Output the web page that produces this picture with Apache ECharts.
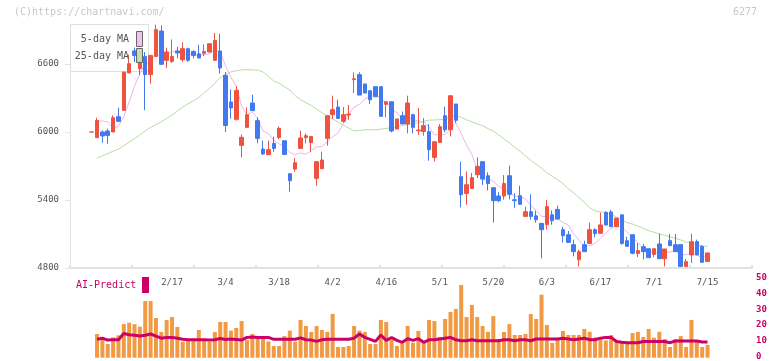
<!DOCTYPE html>
<html>
<head>
<meta charset="utf-8">
<script src="https://cdn.jsdelivr.net/npm/echarts@6/dist/echarts.min.js"></script>
<style>
  html, body { margin: 0; padding: 0; background: #fff; }
  #chart { width: 772px; height: 361px; }
</style>
</head>
<body>
<div id="chart"></div>
<script>
// 日付(営業日)
const dates = [
  '1/24','1/27','1/28','1/29','1/30','1/31','2/3','2/4','2/5','2/6',
  '2/7','2/10','2/12','2/13','2/14','2/17','2/18','2/19','2/20','2/21',
  '2/25','2/26','2/27','2/28','3/3','3/4','3/5','3/6','3/7','3/10',
  '3/11','3/12','3/13','3/14','3/17','3/18','3/19','3/21','3/24','3/25',
  '3/26','3/27','3/28','3/31','4/1','4/2','4/3','4/4','4/7','4/8',
  '4/9','4/10','4/11','4/14','4/15','4/16','4/17','4/18','4/21','4/22',
  '4/23','4/24','4/25','4/28','4/30','5/1','5/2','5/7','5/8','5/9',
  '5/12','5/13','5/14','5/15','5/16','5/20','5/21','5/22','5/23','5/26',
  '5/27','5/28','5/29','5/30','6/2','6/3','6/4','6/5','6/6','6/9',
  '6/10','6/11','6/12','6/13','6/16','6/17','6/18','6/19','6/20','6/23',
  '6/24','6/25','6/26','6/27','6/30','7/1','7/2','7/3','7/4','7/7',
  '7/8','7/9','7/10','7/11','7/14','7/15'
];
// x軸に表示する日付
const tickDays = ['2/17','3/4','3/18','4/2','4/16','5/1','5/20','6/3','6/17','7/1','7/15'];
const priceTicks = [4800, 5400, 6000, 6600];

const opens = [
  6000,5950,6000,6009,6000,6135,6191,6521,6715,6560,
  6667,6506,6667,6891,6632,6623,6715,6638,6735,6711,
  6690,6694,6706,6632,6715,6500,6265,6112,5882,6041,
  6256,6100,5850,5800,5900,5952,5923,5632,5673,5855,
  5950,5906,5591,5676,5944,6153,6220,6094,6150,6462,
  6506,6424,6364,6400,6400,6244,6267,6026,6144,6071,
  6153,6010,6005,6003,5776,5908,6144,6020,6247,5606,
  5458,5502,5623,5738,5614,5508,5435,5435,5614,5402,
  5438,5255,5297,5260,5194,5182,5270,5317,5138,5094,
  5006,4873,5006,5017,5138,5106,5291,5294,5165,5269,
  5041,5094,4929,4988,4970,4920,5012,4882,5041,5006,
  5006,4814,4915,5032,4990,4857
];
const closes = [
  6000,6102,5965,5970,6126,6094,6529,6603,6676,6670,
  6506,6676,6903,6597,6706,6667,6697,6735,6632,6676,
  6653,6711,6779,6808,6565,6058,6212,6367,5953,6153,
  6188,5944,5806,5844,5855,6032,5802,5570,5729,5947,
  5967,5961,5738,5753,6144,6197,6120,6153,6158,6470,
  6326,6344,6285,6311,6138,6267,6009,6115,6071,6256,
  6041,6017,6056,5844,5914,6047,6020,6320,6103,5447,
  5535,5597,5697,5585,5546,5394,5394,5545,5450,5394,
  5362,5297,5255,5226,5138,5342,5217,5232,5085,5026,
  4944,4944,4944,5138,5103,5180,5179,5165,5241,5017,
  4991,4930,4953,4944,4891,4970,4882,4968,4997,4944,
  4814,4856,5032,4915,4850,4933
];
const lows = [
  6000,5950,5906,5897,6000,6088,6191,6521,6618,6500,
  6193,6426,6667,6597,6565,6610,6650,6620,6620,6650,
  6653,6670,6700,6632,6514,6000,6117,6100,5776,6041,
  6188,5900,5797,5800,5826,5935,5802,5473,5650,5855,
  5900,5826,5526,5676,5879,6114,6120,6082,6108,6344,
  6326,6344,6247,6311,6138,6129,5997,6026,6071,5988,
  5988,5974,5967,5747,5741,5908,5997,5961,6080,5335,
  5358,5502,5594,5532,5485,5202,5380,5403,5406,5330,
  5362,5255,5226,5200,4885,5138,5182,5232,5026,5026,
  4903,4812,4944,5017,5070,5106,5179,5165,5165,5005,
  4991,4920,4897,4875,4891,4895,4882,4814,4997,4944,
  4814,4814,4844,4915,4850,4857
];
const highs = [
  6000,6126,6014,6030,6146,6214,6529,6682,6744,6700,
  6706,6676,6947,6941,6744,6817,6750,6791,6745,6720,
  6770,6774,6779,6874,6867,6529,6376,6406,5977,6217,
  6329,6129,5923,5923,5959,6049,5923,5632,5770,6011,
  5988,5961,5738,5826,6144,6320,6285,6220,6238,6526,
  6526,6424,6364,6400,6400,6267,6267,6115,6180,6320,
  6160,6212,6123,6070,5914,6070,6223,6320,6247,5738,
  5652,5638,5776,5738,5644,5515,5470,5620,5703,5459,
  5526,5341,5450,5306,5194,5400,5308,5350,5164,5126,
  5050,4962,5041,5200,5150,5288,5300,5312,5241,5269,
  5075,5094,5020,5012,4970,4970,5103,4968,5100,5100,
  5006,4880,5103,5050,5000,4933
];
// 25日移動平均(チャートから読み取り)
const ma25 = [
  '-',5770,5790,5810,5830,5850,5880,5910,5940,5975,
  6010,6040,6065,6090,6120,6150,6185,6220,6250,6275,
  6305,6345,6385,6430,6480,6510,6530,6540,6548,6550,
  6548,6545,6530,6490,6450,6430,6400,6370,6320,6285,
  6260,6235,6200,6170,6140,6115,6090,6060,6035,6010,
  6012,6020,6020,6020,6025,6032,6038,6045,6058,6066,
  6074,6082,6094,6105,6106,6108,6115,6135,6145,6130,
  6108,6090,6072,6055,6030,6008,5975,5938,5905,5865,
  5830,5790,5750,5715,5680,5640,5610,5578,5545,5500,
  5465,5420,5380,5330,5305,5295,5288,5278,5250,5220,
  5200,5188,5170,5150,5130,5115,5100,5088,5075,5062,
  5048,5030,5018,5005,4995,4990
];
// 5日移動平均の最初の部分(表示範囲より前のデータが必要なため読み取り)
const ma5Head = ['-', 6097, 6097, 6090];
const volumes = [
  '-',14.8,12,8.6,12.7,14,21,21.9,21,19.4,
  35.4,35.4,24.8,16.1,23.6,25.4,19.2,10,11.5,12,
  17.3,11,10,16.1,22.3,22.3,16.9,18.6,22.9,11,
  14.8,13.5,12.7,10.2,7.3,7.3,13.5,16.9,10,23.6,
  19.8,16.1,19.8,17.3,16.2,27.3,6.7,6.7,7.3,19.8,
  16.9,16.1,8.6,8.6,23.6,22.3,11,7.3,9,19.8,
  9.4,16.7,9.4,23.6,22.9,12.9,24.2,28.6,30.5,45.4,
  25.4,33,25.4,19.8,16.2,26,11.7,16.1,21,14.2,
  14.2,14.8,27.3,24.2,39.4,20.4,9.2,11.4,16.7,14.2,
  14.2,14.2,18,16.2,12.7,11.4,10.8,14.2,10.4,9.4,
  9.4,15.4,16.1,12.9,18,12.5,16.2,11.7,6.7,11.7,
  13.5,6.7,23.6,10,6.7,8
];
const aiPredict = [
  '-',11.5,12.2,11,11.2,11.2,15.1,14.4,14,13.5,
  14,14.8,13.5,12.2,12.7,12.7,12.2,11.5,11.2,11.2,
  11.2,11.2,11,11.2,12,11.4,11.7,11.4,11,12.7,
  12.9,12.7,12.7,12.7,11.5,11.5,11.5,11.5,11.5,12.4,
  11.2,11,10.2,11.2,11.5,11.5,11.5,11.5,11.5,12.2,
  14.8,12.7,11.5,10.2,14.2,10.8,12.5,10.8,9.6,11.9,
  10.8,11.9,9.6,11.2,11.2,11.7,12.2,12.7,11.2,10.6,
  10.6,11.2,10.6,10.6,10.6,10.6,10.6,11.2,11.2,10.6,
  11.2,11.2,10.6,11.7,11.7,11.7,11.7,11.7,12.2,11.7,
  11.2,11.7,12.2,11.2,11.2,12.2,12.7,12.7,10.1,9.6,
  9.4,9.4,9.4,10.1,10.1,10.1,10.1,10.1,9.4,10.4,
  10.4,10.4,10.4,10.4,9.8,9.8
];

const FONT = 'DejaVu Sans Mono';
const RED = '#ef5340';
const BLUE = '#4279ef';

const candleData = dates.map((d, i) => [opens[i], closes[i], lows[i], highs[i]]);
const ma5 = closes.map((c, i) => {
  if (i < 4) return ma5Head[i];
  let s = 0;
  for (let j = i - 4; j <= i; j++) s += closes[j];
  return Math.round(s / 5);
});

// 価格軸: 4800 が y=268, 600 が 68px
const pMin = 4800;
const pMax = 4800 + 244 * 600 / 68;

const myChart = echarts.init(document.getElementById('chart'));
const option = {
  animation: false,
  textStyle: { fontFamily: FONT },
  grid: [
    { left: 70, right: 20, top: 24, bottom: 93 },      // 価格枠
    { left: 89, right: 61.8, top: 24, bottom: 93 },    // ローソク
    { left: 70, right: 20, top: 277.7, bottom: 3.3 },  // 出来高枠
    { left: 89, right: 61.8, top: 277.7, bottom: 3.3 } // 出来高
  ],
  xAxis: [
    {
      gridIndex: 0, type: 'value', min: 0, max: 11, interval: 1,
      axisLine: { lineStyle: { color: '#e2e2e2', width: 2 } },
      axisTick: { inside: true, length: 3, lineStyle: { color: '#e2e2e2', width: 2 } },
      axisLabel: { show: false },
      splitLine: { show: false }
    },
    {
      gridIndex: 1, type: 'category', data: dates, boundaryGap: true,
      axisLine: { show: false },
      axisTick: { show: false },
      axisLabel: {
        interval: (i) => tickDays.includes(dates[i]),
        color: '#555', fontSize: 9, fontFamily: FONT, margin: 10
      }
    },
    { gridIndex: 2, type: 'value', min: 0, max: 11, show: false },
    { gridIndex: 3, type: 'category', data: dates, boundaryGap: true, show: false }
  ],
  yAxis: [
    {
      gridIndex: 0, type: 'value', min: pMin, max: pMax,
      axisLine: { show: true, lineStyle: { color: '#e2e2e2' } },
      axisTick: { show: true, length: 5, customValues: priceTicks, lineStyle: { color: '#e2e2e2' } },
      axisLabel: {
        customValues: priceTicks, formatter: (v) => String(v),
        color: '#555', fontSize: 9, fontFamily: FONT, margin: 11
      },
      splitLine: { show: false }
    },
    { gridIndex: 1, type: 'value', min: pMin, max: pMax, show: false },
    {
      gridIndex: 2, type: 'value', position: 'right', min: 0, max: 50, interval: 10,
      axisLine: { show: false },
      axisTick: { show: false },
      axisLabel: { color: '#cc0066', fontSize: 9, fontWeight: 'bold', fontFamily: FONT, margin: 4 },
      splitLine: { show: false }
    },
    { gridIndex: 3, type: 'value', min: 0, max: 50, show: false }
  ],
  series: [
    {
      name: '25-day MA', type: 'line', xAxisIndex: 1, yAxisIndex: 1,
      data: ma25, symbol: 'none', z: 1,
      lineStyle: { color: '#b6dca6', width: 1 }
    },
    {
      name: '5-day MA', type: 'line', xAxisIndex: 1, yAxisIndex: 1,
      data: ma5, symbol: 'none', z: 1,
      lineStyle: { color: '#ebb5ea', width: 1 }
    },
    {
      type: 'candlestick', xAxisIndex: 1, yAxisIndex: 1,
      data: candleData, barWidth: 4, clip: false, z: 3,
      itemStyle: {
        color: RED, color0: BLUE,
        borderColor: RED, borderColor0: BLUE, borderWidth: 1
      }
    },
    {
      type: 'bar', xAxisIndex: 3, yAxisIndex: 3,
      data: volumes, barWidth: 4,
      itemStyle: { color: '#f19a44' }
    },
    {
      name: 'AI-Predict', type: 'line', xAxisIndex: 3, yAxisIndex: 3,
      data: aiPredict, symbol: 'none', z: 4,
      lineStyle: { color: '#cc0066', width: 3 }
    }
  ],
  graphic: [
    { type: 'text', left: 14, top: 7, z: 10,
      style: { text: '(C)https://chartnavi.com/', fill: '#c8c8c8', font: '10px "DejaVu Sans Mono"' } },
    { type: 'text', left: 733, top: 7, z: 10,
      style: { text: '6277', fill: '#c8c8c8', font: '10px "DejaVu Sans Mono"' } },
    // 凡例
    { type: 'rect', z: 1, shape: { x: 70.5, y: 24.5, width: 78, height: 47 },
      style: { fill: '#fff', stroke: '#dedede', lineWidth: 1 } },
    { type: 'text', z: 10, x: 129, y: 39.5,
      style: { text: '5-day MA', fill: '#555', font: '10px "DejaVu Sans Mono"', align: 'right', verticalAlign: 'middle' } },
    { type: 'text', z: 10, x: 129, y: 56.7,
      style: { text: '25-day MA', fill: '#555', font: '10px "DejaVu Sans Mono"', align: 'right', verticalAlign: 'middle' } },
    { type: 'rect', z: 10, shape: { x: 136.5, y: 31.5, width: 6, height: 15 },
      style: { fill: '#f0c3ef', stroke: '#666', lineWidth: 1 } },
    { type: 'rect', z: 10, shape: { x: 136.5, y: 48.5, width: 6, height: 14 },
      style: { fill: '#bfe1b2', stroke: '#666', lineWidth: 1 } },
    // AI-Predict
    { type: 'text', z: 10, x: 76, y: 285,
      style: { text: 'AI-Predict', fill: '#cc0066', font: '10px "DejaVu Sans Mono"', verticalAlign: 'middle' } },
    { type: 'rect', z: 10, shape: { x: 142, y: 277, width: 7, height: 16 },
      style: { fill: '#cc0066' } }
  ]
};
myChart.setOption(option);
</script>
</body>
</html>
